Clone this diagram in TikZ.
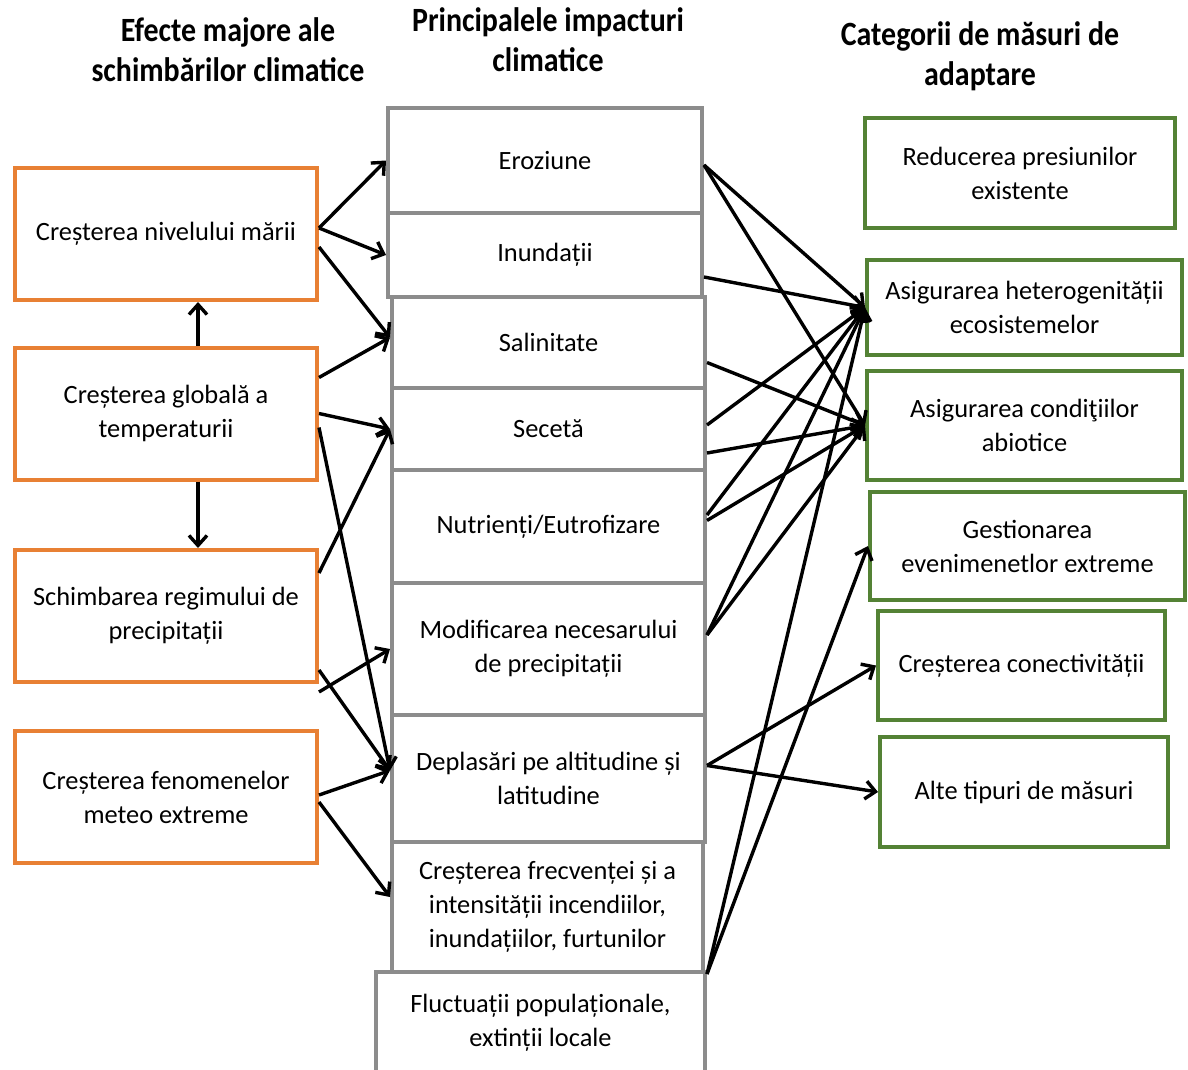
\documentclass[tikz,border=0pt]{standalone}
\usepackage{fontspec}
\setmainfont{Carlito}
\newfontfamily\headfont[FakeStretch=0.88]{Carlito}
\usetikzlibrary{arrows.meta,calc}
\definecolor{effectorange}{RGB}{232,128,52}
\definecolor{measuregreen}{RGB}{84,130,53}
\definecolor{impactgray}{RGB}{140,140,140}

\begin{document}
\begin{tikzpicture}[x=0.5pt,y=-0.5pt,
  box/.style={draw,line width=2pt,align=center,inner sep=0pt,font=\fontsize{13.2}{17}\selectfont},
  effect/.style={box,draw=effectorange,minimum width=151pt,minimum height=66pt},
  impact/.style={box,draw=impactgray,minimum width=156.5pt},
  measure/.style={box,draw=measuregreen,minimum width=157.5pt},
  head/.style={align=center,font=\headfont\bfseries\fontsize{17}{20}\selectfont},
  arr/.style={line width=1.7pt,-{Straight Barb[length=5pt,width=9pt]}}]

\useasboundingbox (0,0) rectangle (1188,1070);
\clip (0,0) rectangle (1188,1070);

\node[head] (H1) at (228,50) {Efecte majore ale\\schimbărilor climatice};
\node[head] (H2) at (548,40) {Principalele impacturi\\climatice};
\node[head] (H3) at (980,56) {Categorii de măsuri de\\adaptare};

\node[effect] (L1) at (166,234) {Creșterea nivelului mării};
\node[effect] (L2) at (166,413.5) {Creșterea globală a\\temperaturii};
\node[effect] (L3) at (166,616) {Schimbarea regimului de\\precipitații};
\node[effect] (L4) at (166,797) {Creșterea fenomenelor\\meteo extreme};

\node[impact,minimum width=157pt,minimum height=52.5pt] (M1) at (545,160.5) {Eroziune};
\node[impact,minimum width=157pt,minimum height=42pt] (M2) at (545,255) {Inundații};
\node[impact,minimum height=45.5pt] (M3) at (548.5,342.5) {Salinitate};
\node[impact,minimum height=41pt] (M4) at (548.5,429) {Secetă};
\node[impact,minimum height=56.5pt] (M5) at (548.5,526.5) {Nutrienți/Eutrofizare};
\node[impact,minimum height=66pt] (M6) at (548.5,649) {Modificarea necesarului\\de precipitații};
\node[impact,minimum height=63.5pt] (M7) at (548.5,778.5) {Deplasări pe altitudine și\\latitudine};
\node[impact,minimum width=155.5pt,minimum height=65pt] (M8) at (547.5,907) {Creșterea frecvenței și a\\intensității incendiilor,\\inundațiilor, furtunilor};
\node[impact,minimum width=164.5pt,minimum height=51pt] (M9) at (540.5,1023) {Fluctuații populaționale,\\extinții locale};

\node[measure,minimum width=155pt,minimum height=55pt] (R1) at (1020,173) {Reducerea presiunilor\\existente};
\node[measure,minimum height=47.5pt] (R2) at (1024.5,307.5) {Asigurarea heterogenității\\ecosistemelor};
\node[measure,minimum height=54.5pt] (R3) at (1024.5,425.5) {Asigurarea condiţiilor\\abiotice};
\node[measure,minimum height=54pt] (R4) at (1027.5,546) {Gestionarea\\evenimenetlor extreme};
\node[measure,minimum width=143.5pt,minimum height=54.5pt] (R5) at (1021.5,665.5) {Creșterea conectivității};
\node[measure,minimum width=144pt,minimum height=55pt] (R6) at (1024,792) {Alte tipuri de măsuri};

\draw[arr] ([xshift=16pt]L2.north) -- ([xshift=16pt]L1.south);
\draw[arr] ([xshift=16pt]L2.south) -- ([xshift=16pt]L3.north);

\draw[arr] ([yshift=3pt]L1.east) -- (M1.west);
\draw[arr] ([yshift=3pt]L1.east) -- (M2.west);
\draw[arr] ([yshift=-6.5pt]L1.east) -- ([yshift=2.5pt]M3.west);
\draw[arr] ([yshift=18pt]L2.east) -- ([yshift=2.5pt]M3.west);
\draw[arr] (L2.east) -- (M4.west);
\draw[arr] ([yshift=-7pt]L2.east) -- ([yshift=4pt]M7.west);
\draw[arr] ([yshift=21.5pt]L3.east) -- (M4.west);
\draw[arr] ([yshift=-27pt]L3.east) -- ([yshift=4pt]M7.west);
\draw[arr] ([yshift=-4pt]L3.south east) -- (M6.west);
\draw[arr] ([yshift=1pt]L4.east) -- ([yshift=4pt]M7.west);
\draw[arr] ([yshift=-2.5pt]L4.east) -- ([yshift=5pt]M8.west);

\foreach \p in {
([yshift=-2.25pt]M1.east),
([yshift=-11pt]M2.east),
([yshift=2pt]M4.east),
([yshift=5.75pt]M5.east),
([yshift=7pt]M6.east),
([yshift=-2pt]M9.north east)
}{
\draw[arr] \p -- (R2.west);
}

\foreach \p in {
([yshift=-2.25pt]M1.east),
([yshift=-10pt]M3.east),
([yshift=-12pt]M4.east),
([yshift=3pt]M5.east),
([yshift=7pt]M6.east)
}{
\draw[arr] \p -- (R3.west);
}

\draw[arr] ([yshift=-2pt]M9.north east) -- (R4.west);
\draw[arr] ([yshift=6.5pt]M7.east) -- (R5.west);
\draw[arr] ([yshift=6.5pt]M7.east) -- (R6.west);

\end{tikzpicture}
\end{document}
